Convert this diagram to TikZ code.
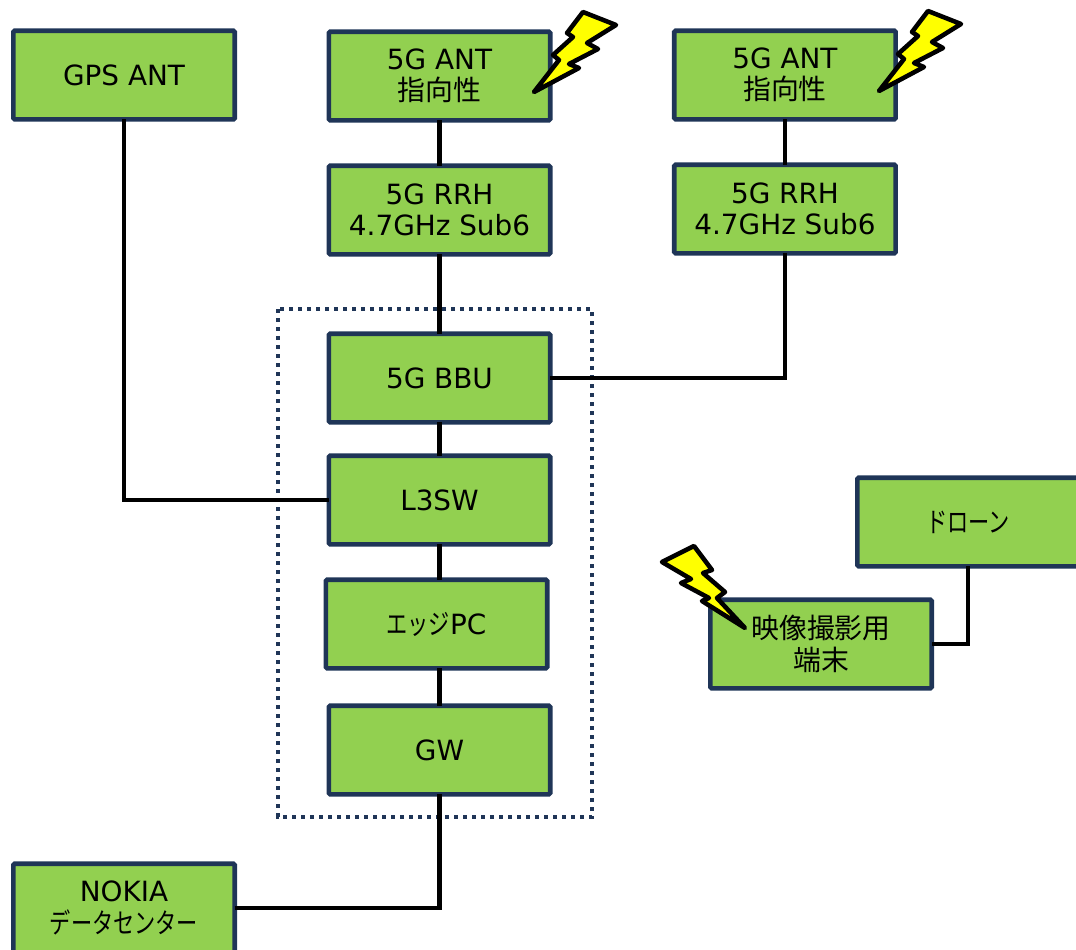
\documentclass[tikz,border=0pt]{standalone}
\usepackage{fontspec}
\setmainfont{DejaVu Sans}
\newfontfamily\jpfont{Noto Sans CJK JP}
\newfontfamily\kanafont[FakeStretch=0.76]{Noto Sans CJK JP}
\usetikzlibrary{positioning}
\definecolor{boxgreen}{HTML}{92D050}
\definecolor{boxnavy}{HTML}{1F3557}
\definecolor{boltyellow}{HTML}{FFFF00}
\tikzset{
  devicebox/.style={draw=boxnavy, fill=boxgreen, line width=3.5pt, rounded corners=1pt, outer sep=0pt, inner sep=0pt,
    minimum width=166pt, minimum height=66.5pt, align=center, font=\fontsize{20.9}{23.5}\selectfont},
  link/.style={black, line width=3.4pt},
  dottedarea/.style={boxnavy, line width=3.4pt, dash pattern=on 3.2pt off 3.55pt},
  boltline/.style={black, fill=boltyellow, line width=3.4pt, line join=round},
  bolt/.pic={
    \draw[boltline] (0,0) -- (25,-32) -- (19,-37) -- (39,-55) -- (33,-59) -- (49,-80) -- (82,-67)
      -- (53,-49) -- (64,-43) -- (35,-28) -- (45,-24) -- cycle;
  },
  boltflip/.pic={
    \draw[boltline] (0,0) -- (-43,-27) -- (-36,-30) -- (-64,-45) -- (-54,-49) -- (-83,-66) -- (-51,-82)
      -- (-33,-58) -- (-42,-55) -- (-20,-36) -- (-28,-30) -- cycle;
  }
}
\begin{document}
\begin{tikzpicture}[x=0.75pt, y=-0.75pt]
  \useasboundingbox (0,0) rectangle (1076,950);
  \draw[dottedarea] (278,309) rectangle (592,817);
  \node[devicebox] at (439.5,76) (ant1) {5G ANT\\{\jpfont 指向性}};
  \node[devicebox, below=34pt of ant1] (rrh1) {5G RRH\\4.7GHz Sub6};
  \node[devicebox, below=59.5pt of rrh1] (bbu) {5G BBU};
  \node[devicebox, below=25pt of bbu] (l3sw) {L3SW};
  \node[devicebox, below=26.5pt of l3sw, xshift=-2.25pt] (edge) {{\kanafont エッジ}PC};
  \node[devicebox, below=28pt of edge, xshift=2.25pt] (gw) {GW};
  \node[devicebox, right=93.1pt of ant1, yshift=0.75pt] (ant2) {5G ANT\\{\jpfont 指向性}};
  \node[devicebox, below=34pt of ant2] (rrh2) {5G RRH\\4.7GHz Sub6};
  \node[devicebox, left=70.6pt of ant1, yshift=0.75pt] (gps) {GPS ANT};
  \node[devicebox, below=558.25pt of gps] (nokia) {NOKIA\\{\kanafont データセンター}};
  \node[devicebox] at (968,522) (drone) {{\kanafont ドローン}};
  \node[devicebox] at (821,644) (video) {{\jpfont 映像撮影用}\\{\jpfont 端末}};
  \draw[link] (ant1)--(rrh1);
  \draw[link] (rrh1)--(bbu);
  \draw[link] (bbu)--(l3sw);
  \draw[link] (l3sw.south)--(l3sw.south |- edge.north);
  \draw[link] (gw.north)--(gw.north |- edge.south);
  \draw[link] (ant2)--(rrh2);
  \draw[link] (rrh2.south) |- (bbu.east);
  \draw[link] (gps.south) |- (l3sw.west);
  \draw[link] (nokia.east) -| (gw.south);
  \draw[link] (drone.south) |- (video.east);
  \pic at (534,92) {bolt};
  \pic at (879,91) {bolt};
  \pic at (745,628) {boltflip};
\end{tikzpicture}
\end{document}
